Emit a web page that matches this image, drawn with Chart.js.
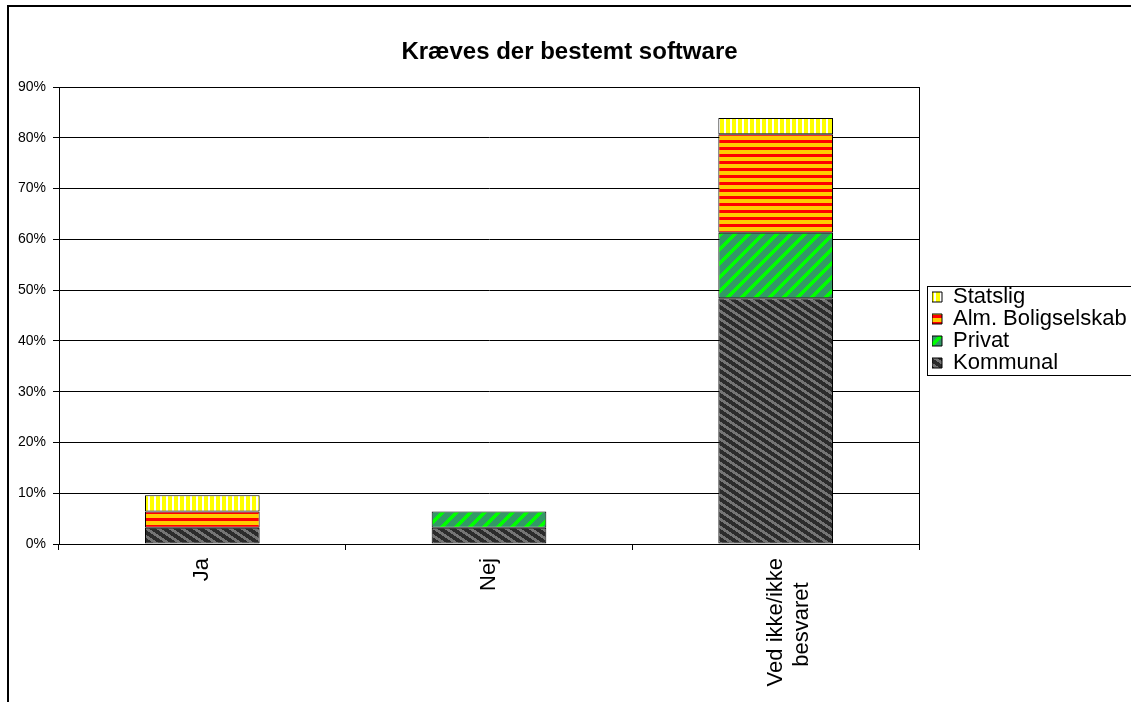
<!DOCTYPE html>
<html>
<head>
<meta charset="utf-8">
<script src="https://cdn.jsdelivr.net/npm/chart.js@4"></script>
<style>
    html, body { margin: 0; padding: 0; background: #fff; }
    #wrap { width: 1131px; height: 702px; }
</style>
</head>
<body>
<div id="wrap"><canvas id="chart" width="1131" height="702"></canvas></div>
<script>
// Dados do gráfico (em %)
const categories = ['Ja', 'Nej', ['Ved ikke/ikke', 'besvaret    ']];
const kommunal = [3.2, 3.2, 48.4];
const privat = [0, 3.2, 12.9];
const almBolig = [3.2, 0, 19.4];
const statslig = [3.2, 0, 3.2];
const yTicks = [0, 10, 20, 30, 40, 50, 60, 70, 80, 90];

const FONT = "Arial, 'Liberation Sans', sans-serif";

// Cria um padrão de preenchimento pixel a pixel
function makePattern(w, h, bg, fg, test) {
    const c = document.createElement('canvas');
    c.width = w;
    c.height = h;
    const g = c.getContext('2d');
    g.fillStyle = bg;
    g.fillRect(0, 0, w, h);
    g.fillStyle = fg;
    for (let x = 0; x < w; x++) {
        for (let y = 0; y < h; y++) {
            if (test(x, y)) g.fillRect(x, y, 1, 1);
        }
    }
    return g.createPattern(c, 'repeat');
}

const patKommunal = makePattern(12, 8, '#2b2b2b', '#747474', (x, y) => ((x - Math.floor(1.5 * y)) % 12 + 12) % 12 < 5);
const patPrivat = makePattern(14, 14, '#339966', '#00ff00', (x, y) => (x + y) % 14 < 5);
const patAlm = makePattern(7, 7, '#ffcc00', '#ff0000', (x, y) => y < 3);
const patStatslig = makePattern(6, 6, '#ffffff', '#ffff00', (x, y) => x < 4);

// Moldura externa, borda da área do gráfico e caixa da legenda
const framePlugin = {
    id: 'frame',
    afterInit(chart) {
        const legend = chart.legend;
        const origFit = legend.fit;
        legend.fit = function () {
            origFit.call(this);
            this.width = 212;
        };
        // desloca a legenda para a posição do original
        const origDraw = legend.draw;
        legend.draw = function () {
            this.left += 13;
            this.top -= 21;
            this.bottom -= 21;
            origDraw.call(this);
            this.left -= 13;
            this.top += 21;
            this.bottom += 21;
        };
    },
    beforeDraw(chart) {
        const ctx = chart.ctx;
        ctx.save();
        ctx.strokeStyle = '#000';
        ctx.lineWidth = 2;
        ctx.strokeRect(8, 6, 2000, 2000);
        ctx.restore();
    },
    afterDraw(chart) {
        const ctx = chart.ctx;
        const a = chart.chartArea;
        ctx.save();
        ctx.strokeStyle = '#000';
        ctx.lineWidth = 1;
        ctx.strokeRect(Math.round(a.left) + 0.5, Math.round(a.top) + 0.5,
            Math.round(a.right - a.left), Math.round(a.bottom - a.top));
        ctx.strokeRect(927.5, 286.5, 300, 89);
        ctx.restore();
    }
};

const ctx = document.getElementById('chart').getContext('2d');
const chart = new Chart(ctx, {
    type: 'bar',
    data: {
        labels: categories,
        datasets: [
            { label: 'Kommunal', data: kommunal, backgroundColor: patKommunal },
            { label: 'Privat', data: privat, backgroundColor: patPrivat },
            { label: 'Alm. Boligselskab', data: almBolig, backgroundColor: patAlm },
            { label: 'Statslig', data: statslig, backgroundColor: patStatslig }
        ].map(d => Object.assign(d, {
            borderColor: '#000',
            borderWidth: 1,
            borderSkipped: false,
            categoryPercentage: 0.8,
            barPercentage: 0.5
        }))
    },
    options: {
        responsive: false,
        animation: false,
        layout: { padding: { left: 8, top: 0, right: 0, bottom: 0 } },
        plugins: {
            title: {
                display: true,
                text: 'Kræves der bestemt software',
                color: '#000',
                font: { family: FONT, size: 24, weight: 'bold', lineHeight: '24px' },
                padding: { top: 40, bottom: 23 }
            },
            legend: {
                position: 'right',
                reverse: true,
                labels: {
                    color: '#000',
                    boxWidth: 10,
                    boxHeight: 10,
                    padding: 0,
                    font: { family: FONT, size: 22 }
                }
            },
            tooltip: { enabled: false }
        },
        scales: {
            x: {
                stacked: true,
                afterFit(scale) { scale.height = 158; },
                grid: {
                    display: true,
                    drawOnChartArea: false,
                    color: '#000',
                    tickLength: 6
                },
                border: { display: true, color: '#000' },
                ticks: {
                    color: '#000',
                    minRotation: 90,
                    maxRotation: 90,
                    padding: 8,
                    font: { family: FONT, size: 22 }
                }
            },
            y: {
                stacked: true,
                min: 0,
                max: 90,
                afterFit(scale) { scale.width = 51; },
                afterBuildTicks(scale) {
                    scale.ticks = yTicks.map(v => ({ value: v }));
                },
                grid: { color: '#000', tickLength: 6 },
                border: { display: true, color: '#000' },
                ticks: {
                    color: '#000',
                    padding: 7,
                    font: { family: FONT, size: 14 },
                    callback: v => v + '%'
                }
            }
        }
    },
    plugins: [framePlugin]
});
</script>
</body>
</html>
